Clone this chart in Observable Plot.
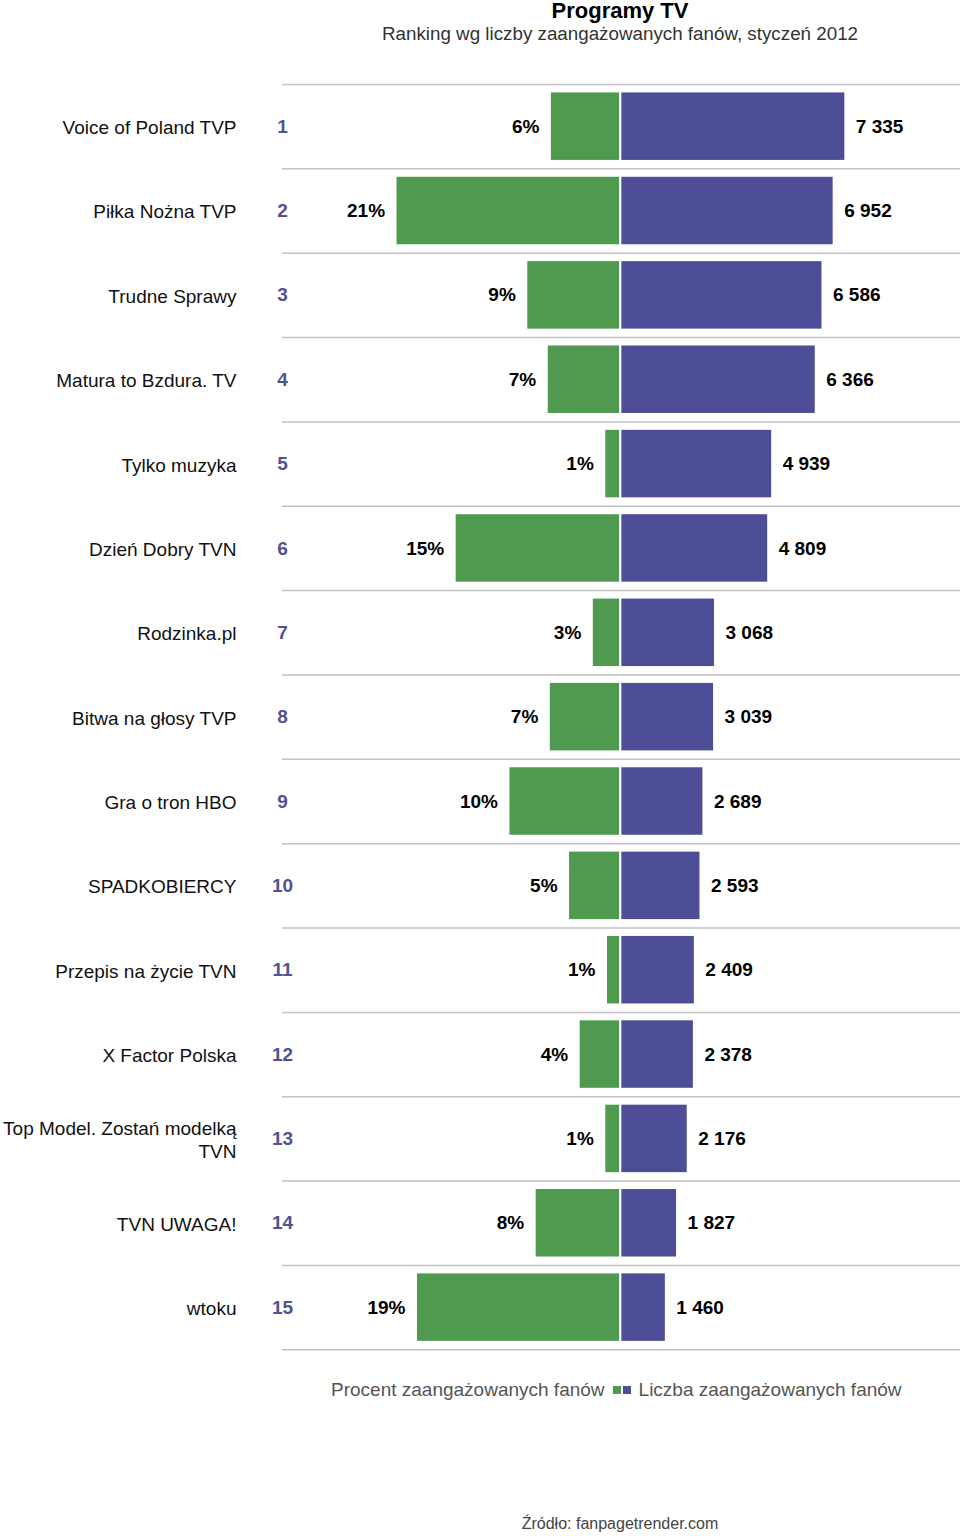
<!DOCTYPE html>
<html>
<head>
<meta charset="utf-8">
<script src="https://cdn.jsdelivr.net/npm/d3@7"></script>
<script src="https://cdn.jsdelivr.net/npm/@observablehq/plot@0.6"></script>
<style>
  html, body { margin: 0; padding: 0; background: #fff; }
  body { font-family: "Liberation Sans", Arial, Helvetica, sans-serif; }
  #page { position: relative; width: 960px; height: 1536px; }
  .title { position: absolute; left: 280px; width: 680px; text-align: center; top: 0px; font-size: 22px; line-height: 22px; font-weight: bold; color: #000; }
  .subtitle { position: absolute; left: 280px; width: 680px; text-align: center; top: 23px; font-size: 18.8px; line-height: 22px; color: #333; }
  #chart { position: absolute; left: 0; top: 50px; }
  .legend { position: absolute; left: 331px; top: 1379px; display: flex; align-items: center; font-size: 19px; line-height: 22px; color: #555; white-space: nowrap; }
  .sw { display: inline-block; width: 8px; height: 8px; }
  .source { position: absolute; left: 280px; width: 680px; text-align: center; top: 1514px; font-size: 16px; line-height: 20px; color: #444; }
</style>
</head>
<body>
<div id="page">
  <div class="title">Programy TV</div>
  <div class="subtitle">Ranking wg liczby zaangażowanych fanów, styczeń 2012</div>
  <div id="chart"></div>
  <div class="legend">
    <span>Procent zaangażowanych fanów</span>
    <span class="sw" style="background:#509a50;margin-left:8px"></span>
    <span class="sw" style="background:#4e4e98;margin-left:2px;margin-right:8px"></span>
    <span>Liczba zaangażowanych fanów</span>
  </div>
  <div class="source">Źródło: fanpagetrender.com</div>
</div>
<script>
// ---- data ----
const programs = [
  "Voice of Poland TVP",
  "Piłka Nożna TVP",
  "Trudne Sprawy",
  "Matura to Bzdura. TV",
  "Tylko muzyka",
  "Dzień Dobry TVN",
  "Rodzinka.pl",
  "Bitwa na głosy TVP",
  "Gra o tron HBO",
  "SPADKOBIERCY",
  "Przepis na życie TVN",
  "X Factor Polska",
  "Top Model. Zostań modelką\nTVN",
  "TVN UWAGA!",
  "wtoku"
];
const ranks = [1, 2, 3, 4, 5, 6, 7, 8, 9, 10, 11, 12, 13, 14, 15];
// engaged-fan share (%); labels show rounded values
const engagedPct = [6.45, 20.8, 8.64, 6.74, 1.39, 15.3, 2.55, 6.55, 10.3, 4.76, 1.23, 3.77, 1.39, 7.86, 18.9];
// number of engaged fans
const engagedFans = [7335, 6952, 6586, 6366, 4939, 4809, 3068, 3039, 2689, 2593, 2409, 2378, 2176, 1827, 1460];

// ---- styling constants ----
const GREEN = "#509a50";
const PURPLE = "#4e4e98";
const RANK_COLOR = "#525290";
const PCT_IN_FAN_UNITS = 352; // display ratio: one percentage point drawn as wide as 352 fans

const data = programs.map((name, i) => ({
  name, rank: ranks[i], pct: engagedPct[i], fans: engagedFans[i]
}));
const boundaries = d3.range(0.5, ranks.length + 1, 1);
const fmt = d3.formatLocale({decimal: ",", thousands: " ", grouping: [3], currency: ["", ""]}).format(",");

const chart = Plot.plot({
  width: 960,
  height: 1310,
  marginLeft: 282,
  marginRight: 0,
  marginTop: 34,
  marginBottom: 10.7,
  style: {fontFamily: '"Liberation Sans", Arial, Helvetica, sans-serif', background: "#fff"},
  x: {domain: [-11070, 11120], axis: null},
  y: {domain: [0.5, ranks.length + 0.5], reverse: true, axis: null},
  marks: [
    Plot.ruleY(boundaries, {stroke: "#c2c2c2", strokeWidth: 1.5}),
    Plot.rectX(data, {
      x1: 0, x2: d => -d.pct * PCT_IN_FAN_UNITS,
      y1: d => d.rank - 0.4, y2: d => d.rank + 0.4,
      fill: GREEN, insetRight: 1.1
    }),
    Plot.rectX(data, {
      x1: 0, x2: "fans",
      y1: d => d.rank - 0.4, y2: d => d.rank + 0.4,
      fill: PURPLE, insetLeft: 1.1
    }),
    Plot.text(data, {
      x: d => -d.pct * PCT_IN_FAN_UNITS, y: "rank",
      text: d => Math.round(d.pct) + "%",
      textAnchor: "end", dx: -12, fontSize: 19, fontWeight: "bold", fill: "#000"
    }),
    Plot.text(data, {
      x: "fans", y: "rank",
      text: d => fmt(d.fans),
      textAnchor: "start", dx: 11, fontSize: 19, fontWeight: "bold", fill: "#000"
    }),
    Plot.text(data, {
      y: "rank", frameAnchor: "left", text: "name",
      textAnchor: "end", dx: -46, fontSize: 19, lineHeight: 1.22, fill: "#111"
    }),
    Plot.text(data, {
      y: "rank", frameAnchor: "left", text: d => String(d.rank),
      textAnchor: "middle", fontSize: 19, fontWeight: 600, fill: RANK_COLOR
    })
  ]
});
document.getElementById("chart").appendChild(chart);
</script>
</body>
</html>
